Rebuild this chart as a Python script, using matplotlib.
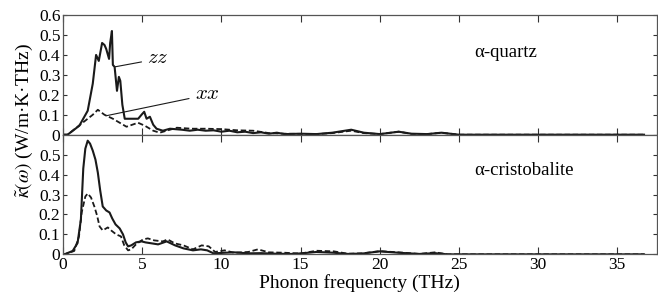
import matplotlib
matplotlib.use("Agg")
import matplotlib.pyplot as plt
from matplotlib.ticker import FuncFormatter

plt.rcParams['font.family'] = ['Liberation Serif', 'DejaVu Serif']
plt.rcParams['mathtext.fontset'] = 'stix'

# alpha-quartz, zz (solid)
f_qz = [0, 0.28, 1.02, 1.55, 1.87, 2.08, 2.25, 2.46, 2.61, 2.72, 2.9, 2.97, 3.08, 3.14, 3.25,
        3.4, 3.52, 3.61, 3.74, 3.89, 4.2, 4.74, 4.95, 5.12, 5.27, 5.48, 5.69, 5.9, 6.3, 6.75,
        7.5, 8.0, 8.5, 9.0, 9.5, 10.0, 10.5, 11.0, 11.5, 12.0, 12.5, 13.0, 13.5, 14.0, 15.0,
        16.0, 17.0, 18.2, 19.0, 20.0, 21.2, 22.0, 23.0, 23.9, 25.0, 36.7]
k_qz = [0, 0, 0.045, 0.12, 0.256, 0.40, 0.37, 0.46, 0.45, 0.43, 0.38, 0.46, 0.52, 0.35, 0.34,
        0.22, 0.29, 0.27, 0.15, 0.08, 0.08, 0.08, 0.10, 0.115, 0.08, 0.09, 0.05, 0.03, 0.02, 0.03,
        0.025, 0.02, 0.025, 0.02, 0.022, 0.015, 0.02, 0.012, 0.015, 0.008, 0.012, 0.005, 0.01, 0.003, 0.005,
        0.003, 0.01, 0.025, 0.01, 0.003, 0.015, 0.005, 0.003, 0.01, 0.0, 0.0]

# alpha-quartz, xx (dashed)
f_qx = [0, 0.28, 1.23, 1.87, 2.19, 2.61, 3.14, 4.0, 4.73, 5.16, 5.69, 6.1, 7.18, 8.1, 9.0,
        10.0, 11.0, 12.0, 13.0, 14.0, 15.0, 16.0, 17.0, 18.2, 19.0, 20.0, 21.2, 22.0, 23.0, 23.9,
        25.0, 36.7]
k_qx = [0, 0, 0.06, 0.10, 0.125, 0.10, 0.08, 0.04, 0.06, 0.045, 0.02, 0.01, 0.035, 0.03, 0.03,
        0.028, 0.022, 0.02, 0.008, 0.005, 0.004, 0.003, 0.008, 0.02, 0.008, 0.003, 0.015, 0.004, 0.003, 0.01,
        0.0, 0.0]

# alpha-cristobalite, solid
f_cs = [0, 0.08, 0.6, 0.91, 1.12, 1.27, 1.4, 1.55, 1.7, 1.87, 2.04, 2.19, 2.34, 2.5, 2.72,
        2.93, 3.1, 3.31, 3.57, 3.78, 3.95, 4.1, 4.3, 4.6, 4.95, 5.2, 5.6, 6.0, 6.54, 7.07,
        7.6, 8.2, 8.7, 9.1, 9.5, 10.2, 10.8, 11.7, 12.5, 13.5, 14.5, 15.2, 16.0, 17.1, 18.0,
        18.9, 20.0, 21.2, 22.5, 23.5, 24.3, 36.7]
k_cs = [0, 0, 0.017, 0.057, 0.175, 0.43, 0.53, 0.57, 0.555, 0.52, 0.475, 0.41, 0.32, 0.24, 0.22,
        0.21, 0.18, 0.15, 0.13, 0.10, 0.06, 0.04, 0.045, 0.06, 0.065, 0.06, 0.055, 0.05, 0.065, 0.045,
        0.03, 0.02, 0.025, 0.02, 0.005, 0.008, 0.01, 0.005, 0.006, 0.003, 0.002, 0.006, 0.012, 0.008, 0.002,
        0.004, 0.015, 0.008, 0.002, 0.006, 0.0, 0.0]

# alpha-cristobalite, dashed
f_cd = [0, 0.08, 0.7, 1.0, 1.17, 1.4, 1.55, 1.76, 1.97, 2.14, 2.3, 2.5, 2.82, 3.03, 3.35,
        3.65, 3.86, 4.1, 4.3, 4.6, 5.05, 5.35, 5.75, 6.3, 6.6, 7.05, 7.6, 8.2, 8.75, 9.2,
        9.6, 10.2, 10.8, 11.7, 12.3, 13.0, 14.0, 15.0, 16.0, 17.1, 18.0, 18.9, 20.0, 21.2, 22.5,
        23.5, 24.3, 36.7]
k_cd = [0, 0, 0.017, 0.09, 0.21, 0.29, 0.305, 0.285, 0.24, 0.195, 0.14, 0.12, 0.135, 0.12, 0.10,
        0.09, 0.045, 0.02, 0.025, 0.05, 0.075, 0.08, 0.07, 0.065, 0.075, 0.055, 0.045, 0.025, 0.045, 0.04,
        0.012, 0.02, 0.008, 0.012, 0.025, 0.01, 0.008, 0.004, 0.018, 0.015, 0.003, 0.005, 0.016, 0.01, 0.002,
        0.01, 0.0, 0.0]

x_ticks = [0, 5, 10, 15, 20, 25, 30, 35]
y_ticks_top = [0, 0.1, 0.2, 0.3, 0.4, 0.5, 0.6]
y_ticks_bot = [0, 0.1, 0.2, 0.3, 0.4, 0.5]


def fmt(v, pos):
    return "0" if abs(v) < 1e-9 else "%.1f" % v


fig, (ax1, ax2) = plt.subplots(2, 1, figsize=(6.58, 3.01), dpi=100, sharex=True)
fig.subplots_adjust(left=0.096, right=0.998, top=0.95, bottom=0.155, hspace=0)

col = "#1a1a1a"
ax1.plot(f_qz, k_qz, color=col, lw=1.5)
ax1.plot(f_qx, k_qx, color=col, lw=1.3, ls=(0, (3, 1.5)))
ax2.plot(f_cs, k_cs, color=col, lw=1.5)
ax2.plot(f_cd, k_cd, color=col, lw=1.3, ls=(0, (3, 1.5)))

for ax, yt in ((ax1, y_ticks_top), (ax2, y_ticks_bot)):
    ax.set_xlim(0, 37.5)
    ax.set_ylim(0, 0.6)
    ax.set_xticks(x_ticks)
    ax.set_yticks(yt)
    ax.yaxis.set_major_formatter(FuncFormatter(fmt))
    ax.tick_params(direction="in", labelsize=12.5, color="#333333", width=0.8, pad=2)
    ax.tick_params(axis="x", top=True, length=5)
    ax.tick_params(axis="y", right=True, length=3)
    for s in ax.spines.values():
        s.set_color("#555555")
        s.set_linewidth(0.9)

ax1.text(26.0, 0.41, "α-quartz", fontsize=13.5, va="center")
ax2.text(26.0, 0.42, "α-cristobalite", fontsize=13.5, va="center")

ax1.annotate("$zz$", xy=(3.25, 0.34), xytext=(5.3, 0.38), fontsize=15, va="center",
             math_fontfamily="cm",
             arrowprops=dict(arrowstyle="-", color=col, lw=0.8, shrinkA=2, shrinkB=0))
ax1.annotate("$xx$", xy=(2.72, 0.095), xytext=(8.3, 0.20), fontsize=15, va="center",
             math_fontfamily="cm",
             arrowprops=dict(arrowstyle="-", color=col, lw=0.8, shrinkA=2, shrinkB=0))

ax2.set_xlabel("Phonon frequencty (THz)", fontsize=14, labelpad=1)
fig.text(0.037, 0.60, r"$\tilde{\kappa}(\omega)$ (W/m·K·THz)", rotation=90,
         fontsize=14, va="center", ha="center")

fig.savefig("out.png", dpi=100)
